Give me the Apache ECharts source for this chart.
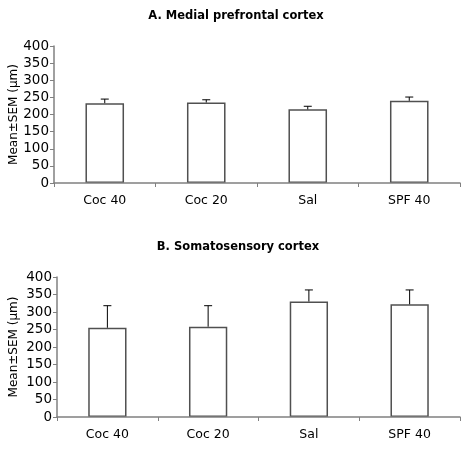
<!DOCTYPE html>
<html><head><meta charset="utf-8">
<script src="https://cdn.jsdelivr.net/npm/echarts@6/dist/echarts.min.js"></script>
<style>html,body{margin:0;padding:0;background:#fff}#c{width:472px;height:449px}</style>
</head><body><div id="c"></div>
<script>
const categories = ['Coc 40', 'Coc 20', 'Sal', 'SPF 40'];
const yTicks = [0, 50, 100, 150, 200, 250, 300, 350, 400];
const meanA = [233, 235, 215, 240];
const semA = [12, 8, 9, 11];
const meanB = [255, 258, 330, 322];
const semB = [63, 60, 33, 41];
const titleA = 'A. Medial prefrontal cortex';
const titleB = 'B. Somatosensory cortex';
const yName = 'Mean\u00b1SEM (\u00b5m)';

const FONT = 'DejaVu Sans';
const chart = echarts.init(document.getElementById('c'), null, {renderer: 'canvas'});

function errRender(params, api) {
  const x = api.value(0), m = api.value(1), e = api.value(2);
  const p0 = api.coord([x, m]);
  const p1 = api.coord([x, m + e]);
  const st = {stroke: '#000', lineWidth: 1};
  return {type: 'group', children: [
    {type: 'line', shape: {x1: p0[0], y1: p0[1], x2: p1[0], y2: p1[1]}, style: st},
    {type: 'line', shape: {x1: p1[0] - 4, y1: p1[1], x2: p1[0] + 4, y2: p1[1]}, style: st}
  ]};
}

function xAx(gi) {
  return {type: 'category', gridIndex: gi, data: categories, z: 3,
    axisLine: {lineStyle: {color: '#808080', width: 1.5}},
    axisTick: {show: true, alignWithLabel: false, length: 4, lineStyle: {color: '#808080'}},
    axisLabel: {color: '#000', fontFamily: FONT, fontSize: 12.5, margin: 11}};
}
function yAx(gi, gap) {
  return {type: 'value', gridIndex: gi, min: 0, max: 400, interval: 50,
    name: yName, nameLocation: 'middle', nameGap: gap, nameRotate: 90, nameMoveOverlap: false,
    nameTextStyle: {color: '#000', fontFamily: FONT, fontSize: 12},
    axisLine: {show: true, lineStyle: {color: '#808080', width: 1.5}},
    axisTick: {show: true, length: 4, lineStyle: {color: '#808080'}},
    splitLine: {show: false},
    axisLabel: {color: '#000', fontFamily: FONT, fontSize: 13.5, margin: 5,
      formatter: v => yTicks.includes(v) ? String(v) : ''}};
}
function barS(gi, data) {
  return {type: 'bar', xAxisIndex: gi, yAxisIndex: gi, data: data, barWidth: '38%', z: 1,
    itemStyle: {color: '#fff', borderColor: '#505050', borderWidth: 1.5}, silent: true};
}
function errS(gi, mean, sem) {
  return {type: 'custom', xAxisIndex: gi, yAxisIndex: gi, renderItem: errRender,
    data: mean.map((m, i) => [i, m, sem[i]]), z: 5, silent: true};
}

chart.setOption({
  animation: false,
  title: [
    {text: titleA, left: 231, top: 5, textAlign: 'center',
      textStyle: {fontFamily: FONT, fontSize: 11.5, fontWeight: 'bold', color: '#000'}},
    {text: titleB, left: 233, top: 236, textAlign: 'center',
      textStyle: {fontFamily: FONT, fontSize: 11.5, fontWeight: 'bold', color: '#000'}}
  ],
  grid: [
    {left: 54, right: 12, top: 46, bottom: 266, containLabel: false, outerBoundsMode: 'none'},
    {left: 57, right: 12, top: 277, bottom: 32, containLabel: false, outerBoundsMode: 'none'}
  ],
  xAxis: [xAx(0), xAx(1)],
  yAxis: [yAx(0, 34), yAx(1, 37)],
  series: [barS(0, meanA), errS(0, meanA, semA), barS(1, meanB), errS(1, meanB, semB)]
});
</script></body></html>
